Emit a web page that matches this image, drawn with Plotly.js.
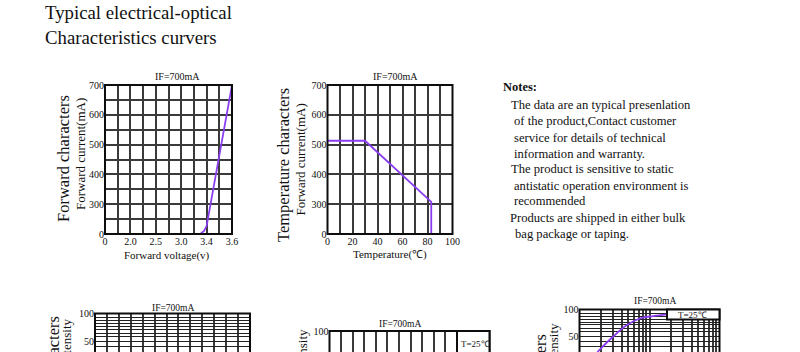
<!DOCTYPE html>
<html>
<head>
<meta charset="utf-8">
<script src="https://cdn.plot.ly/plotly-3.0.1.min.js"></script>
<style>
html, body { margin: 0; padding: 0; background: #ffffff; overflow: hidden; }
#chart { width: 800px; height: 352px; }
</style>
</head>
<body>
<div id="chart"></div>
<script>
// ---------------- data ----------------
const titleLines = ['Typical electrical-optical', 'Characteristics curvers'];
const noteHeading = 'Notes:';
const noteLines = [
  'The data are an typical presenlation',
  'of the product,Contact customer',
  'service for details of technical',
  'information and warranty.',
  'The product is sensitive to static',
  'antistatic operation environment is',
  'recommended',
  'Products are shipped in either bulk',
  'bag package or taping.'
];
const chartTitle = 'IF=700mA';
const tempNote = 'T=25\u2103';

// Chart 1: forward characters
const fwdVoltTicks = [0, 2.0, 2.5, 3.0, 3.4, 3.6];
const fwdVoltLabels = ['0', '2.0', '2.5', '3.0', '3.4', '3.6'];
const fwdCurrTicks = [0, 300, 400, 500, 600, 700];
const fwdCurrLabels = ['0', '300', '400', '500', '600', '700'];
const fwdVoltage = [3.30, 3.36, 3.40, 3.60];
const fwdCurrent = [0, 30, 80, 700];

// Chart 2: temperature characters
const tempTicks = [0, 10, 20, 30, 40, 50, 60, 70, 80, 90, 100];
const tempLabels = ['0', '', '20', '', '40', '', '60', '', '80', '', '100'];
const tempC = [0, 30, 83, 83];
const tempCurrent = [513, 513, 308, 0];

// Bottom charts (cut off by the frame)
const relTicks = [100, 93, 88, 82, 77, 72, 65, 59, 50, 41, 32];
const relLabels = ['100', '', '', '', '', '', '', '', '50', '', ''];
const lumCurrent = [18, 30, 47, 74, 114, 177];
const lumRelative = [22, 50, 71, 84, 88, 91];

// ---------------- helpers ----------------
const SERIF = 'Liberation Serif, Times New Roman, serif';
const GRID = '#3a3a3a';
const INK = '#111111';
const PURPLE = '#8a3ef0';
const PX = x => x / 800;
const PY = y => 1 - y / 352;

// piecewise axis (equally spaced labelled ticks at positions 0,2,4,...)
function toPos(v, ticks) {
  for (let i = 0; i < ticks.length - 1; i++) {
    if (v <= ticks[i + 1]) return 2 * i + 2 * (v - ticks[i]) / (ticks[i + 1] - ticks[i]);
  }
  return 2 * (ticks.length - 1);
}
function halfStepTicks(labels) {
  const vals = [], text = [];
  for (let p = 0; p <= 2 * (labels.length - 1); p++) {
    vals.push(p);
    text.push(p % 2 === 0 ? labels[p / 2] : '');
  }
  return { vals, text };
}
function fullStepTicks(labels) {
  return { vals: labels.map((_, i) => 2 * i), text: labels.slice() };
}

function axis(domain, range, extra) {
  return Object.assign({
    domain: domain, range: range, fixedrange: true,
    showgrid: true, gridcolor: GRID, gridwidth: 2,
    zeroline: false, showline: false, ticks: '',
    tickmode: 'array',
    tickfont: { family: SERIF, size: 10, color: INK }
  }, extra);
}

const f1x = halfStepTicks(fwdVoltLabels);
const f1y = halfStepTicks(fwdCurrLabels);
const f2y = fullStepTicks(fwdCurrLabels);

const traces = [
  { x: fwdVoltage.map(v => toPos(v, fwdVoltTicks)), y: fwdCurrent.map(v => toPos(v, fwdCurrTicks)),
    xaxis: 'x', yaxis: 'y', mode: 'lines', line: { color: PURPLE, width: 1.8 }, hoverinfo: 'skip' },
  { x: tempC, y: tempCurrent.map(v => toPos(v, fwdCurrTicks)),
    xaxis: 'x2', yaxis: 'y2', mode: 'lines', line: { color: PURPLE, width: 1.8 }, hoverinfo: 'skip' },
  { x: lumCurrent, y: lumRelative, xaxis: 'x5', yaxis: 'y5', mode: 'lines',
    line: { color: PURPLE, width: 1.8, shape: 'spline' }, hoverinfo: 'skip' },
  // empty traces to instantiate the other subplots
  { x: [], y: [], xaxis: 'x3', yaxis: 'y3', mode: 'lines' },
  { x: [], y: [], xaxis: 'x4', yaxis: 'y4', mode: 'lines' }
];

const logGrid = [];
[10, 100].forEach(d => { for (let k = 1; k < 10; k++) logGrid.push(k * d); });
logGrid.push(1000);

const thin = { gridwidth: 1, gridcolor: '#222222' };

const layout = {
  width: 800, height: 352,
  margin: { l: 0, r: 0, t: 0, b: 0 },
  paper_bgcolor: '#ffffff', plot_bgcolor: '#ffffff',
  showlegend: false,
  xaxis: axis([PX(105), PX(232)], [0, 10], { anchor: 'y', tickvals: f1x.vals, ticktext: f1x.text }),
  yaxis: axis([PY(234), PY(85)], [0, 10], { anchor: 'x', tickvals: f1y.vals, ticktext: f1y.text }),
  xaxis2: axis([PX(327.5), PX(452.5)], [0, 100], { anchor: 'y2', tickvals: tempTicks, ticktext: tempLabels }),
  yaxis2: axis([PY(234), PY(85)], [0, 10], { anchor: 'x2', tickvals: f2y.vals, ticktext: f2y.text }),
  xaxis3: axis([PX(95), PX(250)], [0, 13], { anchor: 'y3', tickvals: [0,1,2,3,4,5,6,7,8,9,10,11,12,13], showticklabels: false }),
  yaxis3: axis([0, PY(313.5)], [31.9, 100], Object.assign({ anchor: 'x3', tickvals: relTicks, ticktext: relLabels }, thin)),
  xaxis4: axis([PX(329.5), PX(489.5)], [0, 13.8], { anchor: 'y4', tickvals: [0,1,2,3,4,5,6,7,8,9,10,11], showticklabels: false }),
  yaxis4: axis([0, PY(331)], [62, 100], { anchor: 'x4', tickvals: [100], ticktext: ['100'] }),
  xaxis5: axis([PX(579.5), PX(719.5)], [1, 3], { anchor: 'y5', type: 'log', tickvals: logGrid, showticklabels: false }),
  yaxis5: axis([0, PY(309.5)], [22.1, 100], Object.assign({ anchor: 'x5', tickvals: relTicks, ticktext: relLabels }, thin)),
  shapes: [],
  annotations: []
};

// frames
const frameLine = { color: '#0d0d0d', width: 2 };
[['x', 'y', 0], ['x2', 'y2', 0], ['x3', 'y3', -1], ['x4', 'y4', -1], ['x5', 'y5', -1]].forEach(([xa, ya, y0]) => {
  layout.shapes.push({ type: 'rect', xref: xa + ' domain', yref: ya + ' domain', x0: 0, x1: 1, y0: y0, y1: 1,
    line: frameLine, fillcolor: 'rgba(0,0,0,0)', layer: 'above' });
});
// "T=25℃" boxes
layout.shapes.push({ type: 'rect', xref: 'paper', yref: 'paper', x0: PX(457), x1: PX(489.5), y0: PY(380), y1: PY(331),
  line: frameLine, fillcolor: '#ffffff', layer: 'above' });
layout.shapes.push({ type: 'rect', xref: 'paper', yref: 'paper', x0: PX(667), x1: PX(719.5), y0: PY(319.5), y1: PY(309.5),
  line: frameLine, fillcolor: '#ffffff', layer: 'above' });

function note(text, x, y, size, opts) {
  layout.annotations.push(Object.assign({
    text: text, xref: 'paper', yref: 'paper', x: PX(x), y: PY(y),
    xanchor: 'center', yanchor: 'middle', showarrow: false,
    font: { family: SERIF, size: size, color: INK }
  }, opts || {}));
}

// main title
note(titleLines[0], 43, 12.5, 18.8, { xanchor: 'left' });
note(titleLines[1], 43, 38, 18.8, { xanchor: 'left' });

// notes
note('<b>' + noteHeading + '</b>', 501, 87, 12.5, { xanchor: 'left' });
const noteY = [104.5, 121, 137.5, 153.5, 169.5, 185.5, 201.5, 217.5, 233.5];
const noteX = [509, 512, 512, 512, 509, 512, 512, 508, 512.5];
noteLines.forEach((t, i) => note(t, noteX[i], noteY[i], 12.6, { xanchor: 'left' }));

// chart titles
note(chartTitle, 177, 76, 10);
note(chartTitle, 395, 76, 10);
note(chartTitle, 173, 308, 9.5);
note(chartTitle, 400, 323.5, 9.5);
note(chartTitle, 655, 300.5, 9.5);
note(tempNote, 475, 344, 9);
note(tempNote, 692, 314.5, 9);

// axis titles
note('Forward voltage(v)', 167, 255, 11);
note('Temperature(\u2103)', 390, 254, 11);
note('Forward characters', 63, 159, 16.5, { textangle: -90 });
note('Forward current(mA)', 80, 154, 13, { textangle: -90 });
note('Temperature characters', 283, 165, 16.5, { textangle: -90 });
note('Forward current(mA)', 299.5, 160, 13, { textangle: -90 });
// titles of the bottom row, cut off by the picture edge as in the reference
note('Current characters', 53, 315, 16.5, { textangle: -90, yanchor: 'top' });
note('Relative luminous intensity', 66.5, 317, 13, { textangle: -90, yanchor: 'top' });
note('Relative luminous intensity', 302, 328, 13, { textangle: -90, yanchor: 'top' });
note('Current characters', 540, 333, 16.5, { textangle: -90, yanchor: 'top' });
note('Relative luminous intensity', 552.5, 321.5, 13, { textangle: -90, yanchor: 'top' });

Plotly.newPlot('chart', traces, layout, { staticPlot: true, displayModeBar: false });
</script>
</body>
</html>
